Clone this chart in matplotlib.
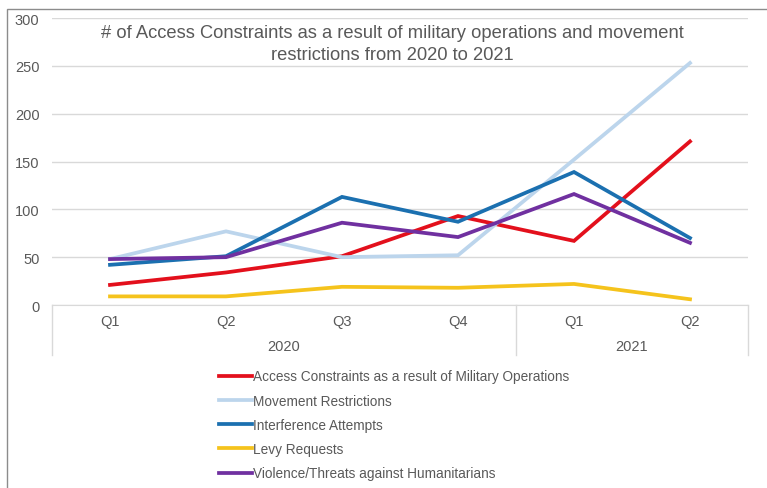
import matplotlib.pyplot as plt
from matplotlib.lines import Line2D
from matplotlib.patches import Rectangle

plt.rcParams["font.family"] = ["Liberation Sans", "DejaVu Sans"]

# ----------------------------------------------------------
# Data
# ----------------------------------------------------------

quarters = ["Q1", "Q2", "Q3", "Q4", "Q1", "Q2"]
years = ["2020", "2021"]
year_spans = [(0, 4), (4, 6)]

military_ops = [21, 34, 51, 93, 67, 171]
movement = [48, 77, 50, 52, 152, 253]
interference = [42, 51, 113, 87, 139, 70]
levy = [9, 9, 19, 18, 22, 6]
violence = [48, 50, 86, 71, 116, 65]

series = [
    ("Access Constraints as a result of Military Operations", military_ops, "#e3101c"),
    ("Movement Restrictions", movement, "#bcd5ec"),
    ("Interference Attempts", interference, "#1b70b0"),
    ("Levy Requests", levy, "#f5c31c"),
    ("Violence/Threats against Humanitarians", violence, "#7030a0"),
]

W, H = 767, 489
TXT = "#595959"
GRID = "#d9d9d9"

fig = plt.figure(figsize=(W / 100, H / 100), dpi=100)

# outer chart frame
fig.patches.append(
    Rectangle((7 / W, -0.01), 1.02, (H - 10) / H + 0.01,
              transform=fig.transFigure, fill=False,
              edgecolor="#8c8c8c", linewidth=1.0)
)

ax = fig.add_axes([52 / W, (H - 306) / H, 696 / W, 287 / H])

x = list(range(len(quarters)))
for label, vals, color in series:
    ax.plot(x, vals, color=color, linewidth=2.7, label=label,
            solid_joinstyle="miter")

ax.set_xlim(-0.5, len(quarters) - 0.5)
ax.set_ylim(0, 300)
ax.set_yticks(range(0, 301, 50))
ax.yaxis.grid(True, color=GRID, linewidth=1.0)
ax.set_axisbelow(True)

for side in ["top", "right", "left"]:
    ax.spines[side].set_visible(False)
ax.spines["bottom"].set_color(GRID)

ax.tick_params(axis="y", length=0, pad=9, labelsize=10.5, labelcolor=TXT)
ax.set_xticks([])

# two-level category axis
trans = ax.get_xaxis_transform()
for i, q in enumerate(quarters):
    ax.text(i, -16 / 287, q, transform=trans, ha="center", va="center",
            fontsize=10.5, color=TXT)

for yr, (a, b) in zip(years, year_spans):
    ax.text((a + b - 1) / 2, -41 / 287, yr, transform=trans, ha="center",
            va="center", fontsize=10.5, color=TXT)

for edge in [-0.5, 3.5, 5.5]:
    ax.add_line(Line2D([edge, edge], [0, -50 / 287], transform=trans,
                       color=GRID, linewidth=1.0, clip_on=False))

fig.text(392 / W, 1 - 44.5 / H,
         "# of Access Constraints as a result of military operations and movement\n"
         "restrictions from 2020 to 2021",
         ha="center", va="center", fontsize=13.2, color=TXT,
         linespacing=1.38)

fig.legend(loc="upper left", bbox_to_anchor=(214 / W, 1 - 365 / H),
           frameon=False, fontsize=9.8, handlelength=2.4, handletextpad=0.1,
           labelspacing=0.75, labelcolor=TXT, borderaxespad=0)

fig.savefig("out.png", dpi=100)
